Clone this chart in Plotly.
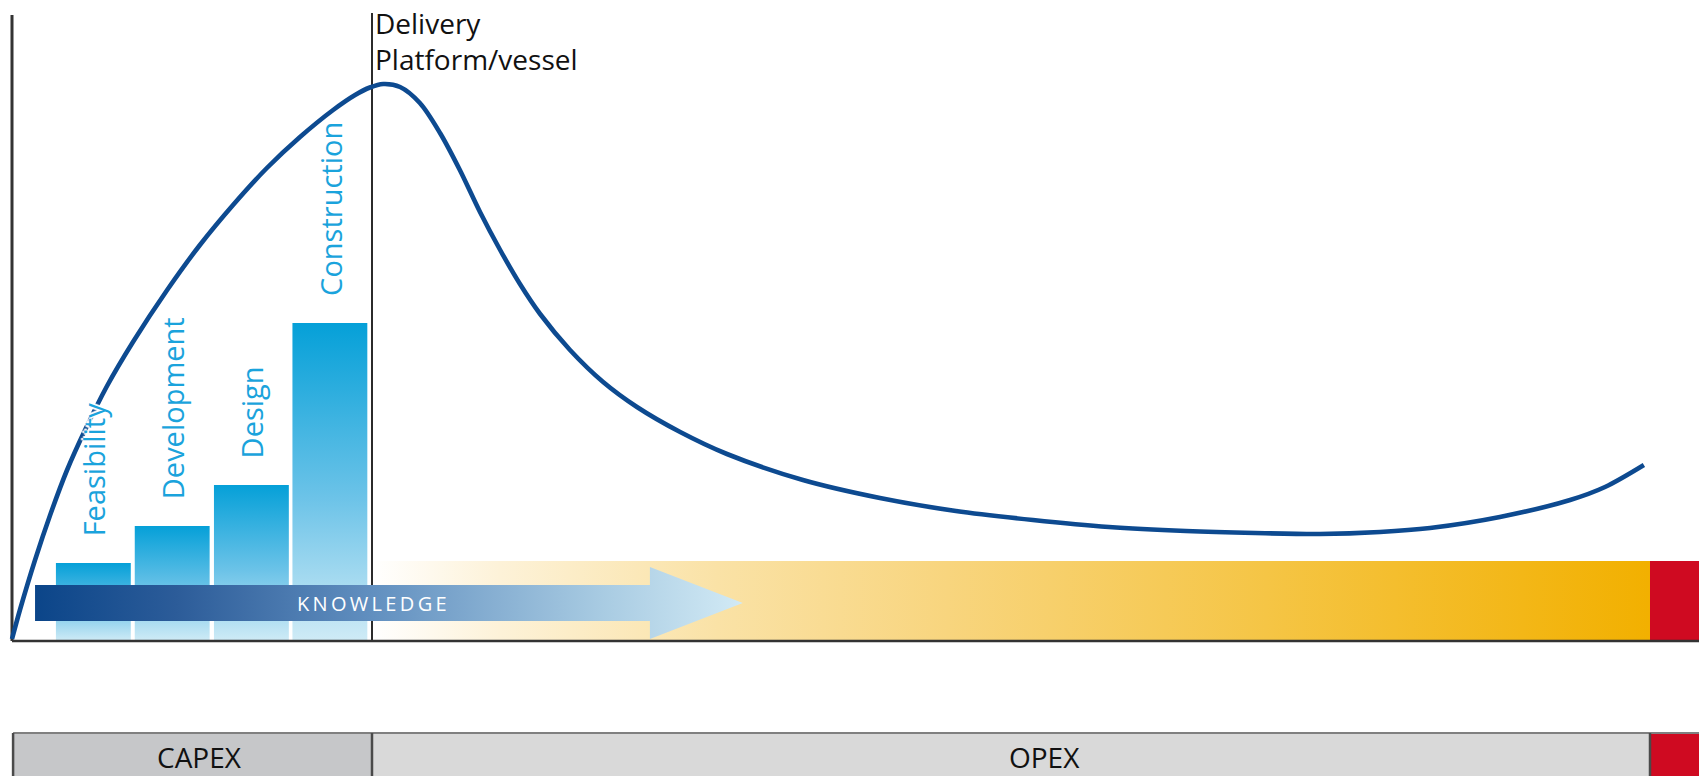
import plotly.graph_objects as go

# ---------------- data (x: time units, delivery at 10; y: cost units) ----------------
phases = ["Feasibility", "Development", "Design", "Construction"]
phase_centers = [2.26, 4.45, 6.65, 8.83]
phase_width = 2.08
phase_heights = [7.8, 11.5, 15.6, 31.8]

curve_x = [0.0, 0.22, 0.64, 1.06, 1.53, 2.03, 2.64, 3.36, 4.31, 5.22, 6.14, 7.08, 8.0,
           8.92, 9.53, 9.94, 10.31, 10.78, 11.33, 11.89, 12.44, 13.0, 13.56, 14.11,
           14.67, 15.5, 16.42, 17.36, 18.56, 19.86, 21.97, 24.11, 26.22, 28.36, 30.47,
           32.61, 34.53, 36.33, 38.0, 39.39, 41.33, 43.28, 44.25, 45.33]
curve_y = [0.2, 3.1, 8.1, 12.6, 17.1, 21.1, 25.5, 29.9, 35.1, 39.6, 43.6, 47.3, 50.4,
           53.1, 54.6, 55.35, 55.7, 55.4, 53.8, 50.8, 47.1, 42.9, 39.1, 35.7,
           32.7, 29.1, 25.9, 23.4, 20.9, 18.7, 16.1, 14.3, 13.0, 12.1, 11.4,
           11.0, 10.8, 10.7, 10.9, 11.3, 12.4, 14.1, 15.4, 17.6]

delivery_x = 10.0
opex_end = 45.5
chart_end = 47.5
band_height = 8.0
axis_top = 62.6
delivery_top = 62.8

knowledge_start, knowledge_head, knowledge_tip = 0.64, 17.72, 20.3
knowledge_body = [2.0, 5.6]
knowledge_headspan = [0.2, 7.4]

stage_labels = ["CAPEX", "OPEX"]
stage_bounds = [0.03, delivery_x, opex_end]
stage_label_x = [5.22, 28.67]
stage_top, stage_bottom = -9.2, -14.0
stage_label_y = -11.6

# ---------------- figure ----------------
fig = go.Figure()
blue = "#0d4a90"
phase_col = "#1aa3dc"

# bottom stage boxes
stage_cols = ["#c6c7c9", "#d9d9d9"]
for i in range(2):
    x0, x1 = stage_bounds[i], stage_bounds[i + 1]
    fig.add_trace(go.Scatter(x=[x0, x1, x1, x0, x0],
                             y=[stage_bottom, stage_bottom, stage_top, stage_top, stage_bottom],
                             fill="toself", fillcolor=stage_cols[i], mode="lines",
                             line=dict(width=0), hoverinfo="skip"))
fig.add_trace(go.Scatter(x=[opex_end, chart_end, chart_end, opex_end, opex_end],
                         y=[stage_bottom, stage_bottom, stage_top, stage_top, stage_bottom],
                         fill="toself", fillcolor="#cf0a21", mode="lines",
                         line=dict(width=0), hoverinfo="skip"))
fig.add_trace(go.Scatter(x=[stage_bounds[0], chart_end], y=[stage_top, stage_top], mode="lines",
                         line=dict(color="#808080", width=2), hoverinfo="skip"))
for xb in stage_bounds:
    fig.add_trace(go.Scatter(x=[xb, xb], y=[stage_bottom, stage_top], mode="lines",
                             line=dict(color="#4a4a4a", width=2.5), hoverinfo="skip"))

# phase bars with vertical gradients
for c, h in zip(phase_centers, phase_heights):
    x0, x1 = c - phase_width / 2, c + phase_width / 2
    fig.add_trace(go.Scatter(x=[x0, x1, x1, x0, x0], y=[0, 0, h, h, 0],
                             fill="toself", mode="lines", line=dict(width=0),
                             fillgradient=dict(type="vertical", start=0, stop=h,
                                               colorscale=[[0, "#cfebf6"], [0.45, "#6cc3e8"], [1, "#05a0d8"]]),
                             hoverinfo="skip"))

# yellow OPEX band and red end block
fig.add_trace(go.Scatter(x=[delivery_x, opex_end, opex_end, delivery_x, delivery_x],
                         y=[0, 0, band_height, band_height, 0],
                         fill="toself", mode="lines", line=dict(width=0),
                         fillgradient=dict(type="horizontal", start=delivery_x, stop=opex_end,
                                           colorscale=[[0, "#ffffff"], [0.1, "#fdf2d8"], [0.27, "#fae2a6"],
                                                       [0.45, "#f8d57e"], [0.7, "#f5c545"], [1, "#f2b000"]]),
                         hoverinfo="skip"))
fig.add_trace(go.Scatter(x=[opex_end, chart_end, chart_end, opex_end, opex_end],
                         y=[0, 0, band_height, band_height, 0],
                         fill="toself", fillcolor="#cf0a21", mode="lines", line=dict(width=0),
                         hoverinfo="skip"))

# vertical lines (axis and delivery)
fig.add_trace(go.Scatter(x=[delivery_x, delivery_x], y=[0, delivery_top], mode="lines",
                         line=dict(color="#2b2b2b", width=2), hoverinfo="skip"))
fig.add_trace(go.Scatter(x=[0, 0], y=[0, axis_top], mode="lines",
                         line=dict(color="#333333", width=3), hoverinfo="skip"))

# knowledge arrow
ky0, ky1 = knowledge_body
hy0, hy1 = knowledge_headspan
fig.add_trace(go.Scatter(
    x=[knowledge_start, knowledge_head, knowledge_head, knowledge_tip, knowledge_head, knowledge_head, knowledge_start, knowledge_start],
    y=[ky0, ky0, hy0, (hy0 + hy1) / 2, hy1, ky1, ky1, ky0],
    fill="toself", mode="lines", line=dict(width=0),
    fillgradient=dict(type="horizontal", start=knowledge_start, stop=knowledge_tip,
                      colorscale=[[0, "#0b4589"], [0.2, "#2c5c99"], [0.48, "#6290c0"],
                                  [0.8, "#a8cbe2"], [1, "#d2eaf5"]]),
    hoverinfo="skip"))

# baseline
fig.add_trace(go.Scatter(x=[0, chart_end], y=[0, 0], mode="lines",
                         line=dict(color="#333333", width=2.5), hoverinfo="skip"))

# life-cycle curve
fig.add_trace(go.Scatter(x=curve_x, y=curve_y, mode="lines",
                         line=dict(color=blue, width=4.6, shape="spline", smoothing=0.9),
                         hoverinfo="skip"))

# annotations
halo = "2px 0 1px #fff, -2px 0 1px #fff, 0 2px 1px #fff, 0 -2px 1px #fff"
for name, c, h in zip(phases, phase_centers, phase_heights):
    fig.add_annotation(x=c, y=h + 2.5, text=name, textangle=-90, showarrow=False,
                       xanchor="center", yanchor="bottom",
                       font=dict(family="Open Sans", size=29, color=phase_col, shadow=halo))

fig.add_annotation(x=delivery_x, y=63.95, text="Delivery<br>Platform/vessel", showarrow=False,
                   xanchor="left", yanchor="top", align="left", xshift=1,
                   font=dict(family="Open Sans", size=28, color="#111111"))

fig.add_annotation(x=delivery_x, y=3.8, text="\u2009".join("KNOWLEDGE"), showarrow=False,
                   xanchor="center", yanchor="middle",
                   font=dict(family="Open Sans", size=20, color="#ffffff"))

for lab, lx in zip(stage_labels, stage_label_x):
    fig.add_annotation(x=lx, y=stage_label_y, text=lab, showarrow=False,
                       xanchor="center", yanchor="middle",
                       font=dict(family="Open Sans", size=28, color="#111111"))

fig.update_layout(
    width=1699, height=776, autosize=False,
    margin=dict(l=0, r=0, t=0, b=0),
    paper_bgcolor="white", plot_bgcolor="white",
    showlegend=False,
    xaxis=dict(range=[-12 / 36, 1687 / 36], visible=False, fixedrange=True),
    yaxis=dict(range=[-13.5, 64.1], visible=False, fixedrange=True),
)

fig.write_html("out.html", config={"displayModeBar": False},
               post_script="document.body.style.margin='0';document.body.style.overflow='hidden';")
